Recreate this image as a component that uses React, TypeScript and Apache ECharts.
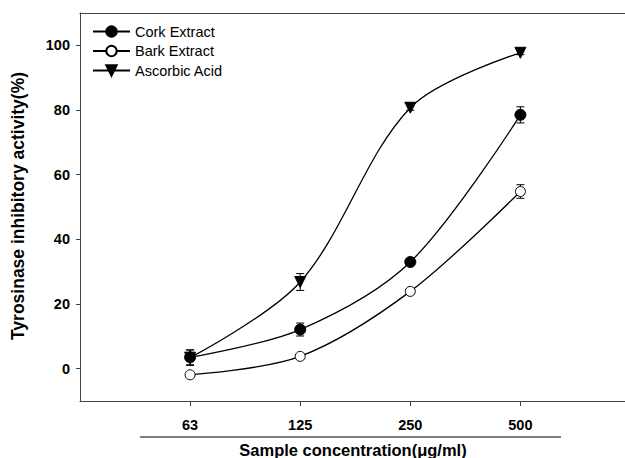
import React, { useEffect, useRef } from "react";
import * as echarts from "echarts";

const categories = ["63", "125", "250", "500"];
const corkValues = [3.5, 12.1, 33.0, 78.5];
const corkErrors = [2.3, 2.0, 1.0, 2.5];
const barkValues = [-1.9, 3.8, 23.9, 54.8];
const barkErrors = [0.5, 0.6, 0.8, 2.1];
const ascorbicValues = [3.4, 26.8, 80.7, 97.7];
const ascorbicErrors = [2.4, 2.6, 0.8, 0.6];
const yTicks = [0, 20, 40, 60, 80, 100];
const xTicks = [0, 1, 2, 3];

const FONT = "Liberation Sans, Arial, sans-serif";

function toPoints(vals: number[]) {
  return vals.map((v, i) => [i, v]);
}
function toErr(vals: number[], errs: number[]) {
  return vals.map((v, i) => [i, v, errs[i]]);
}

const errorRender = (params: any, api: any) => {
  const x = api.value(0);
  const y = api.value(1);
  const e = api.value(2);
  const top = api.coord([x, y + e]);
  const bot = api.coord([x, y - e]);
  const hw = 4;
  const st = { stroke: "#000", lineWidth: 1 };
  return {
    type: "group",
    children: [
      { type: "line", shape: { x1: top[0], y1: top[1], x2: bot[0], y2: bot[1] }, style: st },
      { type: "line", shape: { x1: top[0] - hw, y1: top[1], x2: top[0] + hw, y2: top[1] }, style: st },
      { type: "line", shape: { x1: bot[0] - hw, y1: bot[1], x2: bot[0] + hw, y2: bot[1] }, style: st },
    ],
  };
};

export default function App() {
  const ref = useRef<HTMLDivElement>(null);
  useEffect(() => {
    if (!ref.current) return;
    const chart = echarts.init(ref.current, undefined, { renderer: "svg" });
    const lineStyle = { color: "#000", width: 1.3 };
    const smooth = 0.33;
    chart.setOption({
      animation: false,
      backgroundColor: "#fff",
      grid: { left: 80, right: 0, top: 13, bottom: 57 },
      legend: {
        orient: "vertical",
        left: 87,
        top: 19,
        itemWidth: 37,
        itemHeight: 13,
        itemGap: 4.5,
        textStyle: { fontFamily: FONT, fontSize: 14.5, color: "#000" },
        data: ["Cork Extract", "Bark Extract", "Ascorbic Acid"],
      },
      xAxis: [
        {
          type: "value",
          min: -1,
          max: 3.95,
          axisLine: { show: true, onZero: false, lineStyle: { color: "#444", width: 1 } },
          axisTick: { show: true, customValues: xTicks, length: 5, inside: false, lineStyle: { color: "#444" } },
          axisLabel: {
            customValues: xTicks,
            formatter: (v: number) => categories[Math.round(v)] ?? "",
            margin: 16,
            fontFamily: FONT,
            fontWeight: "bold",
            fontSize: 14.5,
            color: "#000",
          },
          splitLine: { show: false },
        },
        {
          type: "value",
          position: "top",
          min: -1,
          max: 3.95,
          axisLine: { show: true, onZero: false, lineStyle: { color: "#444", width: 1 } },
          axisTick: { show: false },
          axisLabel: { show: false },
          splitLine: { show: false },
        },
      ],
      yAxis: {
        type: "value",
        min: -10,
        max: 110,
        axisLine: { show: true, onZero: false, lineStyle: { color: "#444", width: 1 } },
        axisTick: { show: true, customValues: yTicks, length: 4, lineStyle: { color: "#444" } },
        axisLabel: {
          customValues: yTicks,
          margin: 10,
          fontFamily: FONT,
          fontWeight: "bold",
          fontSize: 14.5,
          color: "#000",
        },
        splitLine: { show: false },
      },
      graphic: [
        {
          type: "line",
          shape: { x1: 140, y1: 437, x2: 561, y2: 437 },
          style: { stroke: "#000", lineWidth: 1.2 },
        },
        {
          type: "text",
          x: 353,
          y: 450,
          style: {
            text: "Sample concentration(μg/ml)",
            fontFamily: FONT,
            fontWeight: "bold",
            fontSize: 16.5,
            fill: "#000",
            align: "center",
            verticalAlign: "middle",
          },
        },
        {
          type: "text",
          x: 18,
          y: 206,
          rotation: Math.PI / 2,
          style: {
            text: "Tyrosinase inhibitory activity(%)",
            fontFamily: FONT,
            fontWeight: "bold",
            fontSize: 17.5,
            fill: "#000",
            align: "center",
            verticalAlign: "middle",
          },
        },
      ],
      series: [
        {
          type: "custom",
          renderItem: errorRender,
          data: toErr(corkValues, corkErrors),
          z: 1,
          silent: true,
        },
        {
          type: "custom",
          renderItem: errorRender,
          data: toErr(barkValues, barkErrors),
          z: 1,
          silent: true,
        },
        {
          type: "custom",
          renderItem: errorRender,
          data: toErr(ascorbicValues, ascorbicErrors),
          z: 1,
          silent: true,
        },
        {
          name: "Ascorbic Acid",
          type: "line",
          smooth,
          data: toPoints(ascorbicValues),
          symbol: "triangle",
          symbolRotate: 180,
          symbolSize: 11,
          showAllSymbol: true,
          lineStyle,
          itemStyle: { color: "#000", borderColor: "#000", borderWidth: 1 },
          z: 3,
        },
        {
          name: "Bark Extract",
          type: "line",
          smooth,
          data: toPoints(barkValues),
          symbol: "circle",
          symbolSize: 10,
          lineStyle,
          itemStyle: { color: "#fff", borderColor: "#000", borderWidth: 1 },
          z: 3,
        },
        {
          name: "Cork Extract",
          type: "line",
          smooth,
          data: toPoints(corkValues),
          symbol: "circle",
          symbolSize: 11,
          lineStyle,
          itemStyle: { color: "#000", borderColor: "#000", borderWidth: 1 },
          z: 4,
        },
      ],
    });
    return () => chart.dispose();
  }, []);
  return (
    <div
      ref={ref}
      style={{ position: "absolute", left: 0, top: 0, width: 625, height: 458 }}
    />
  );
}
